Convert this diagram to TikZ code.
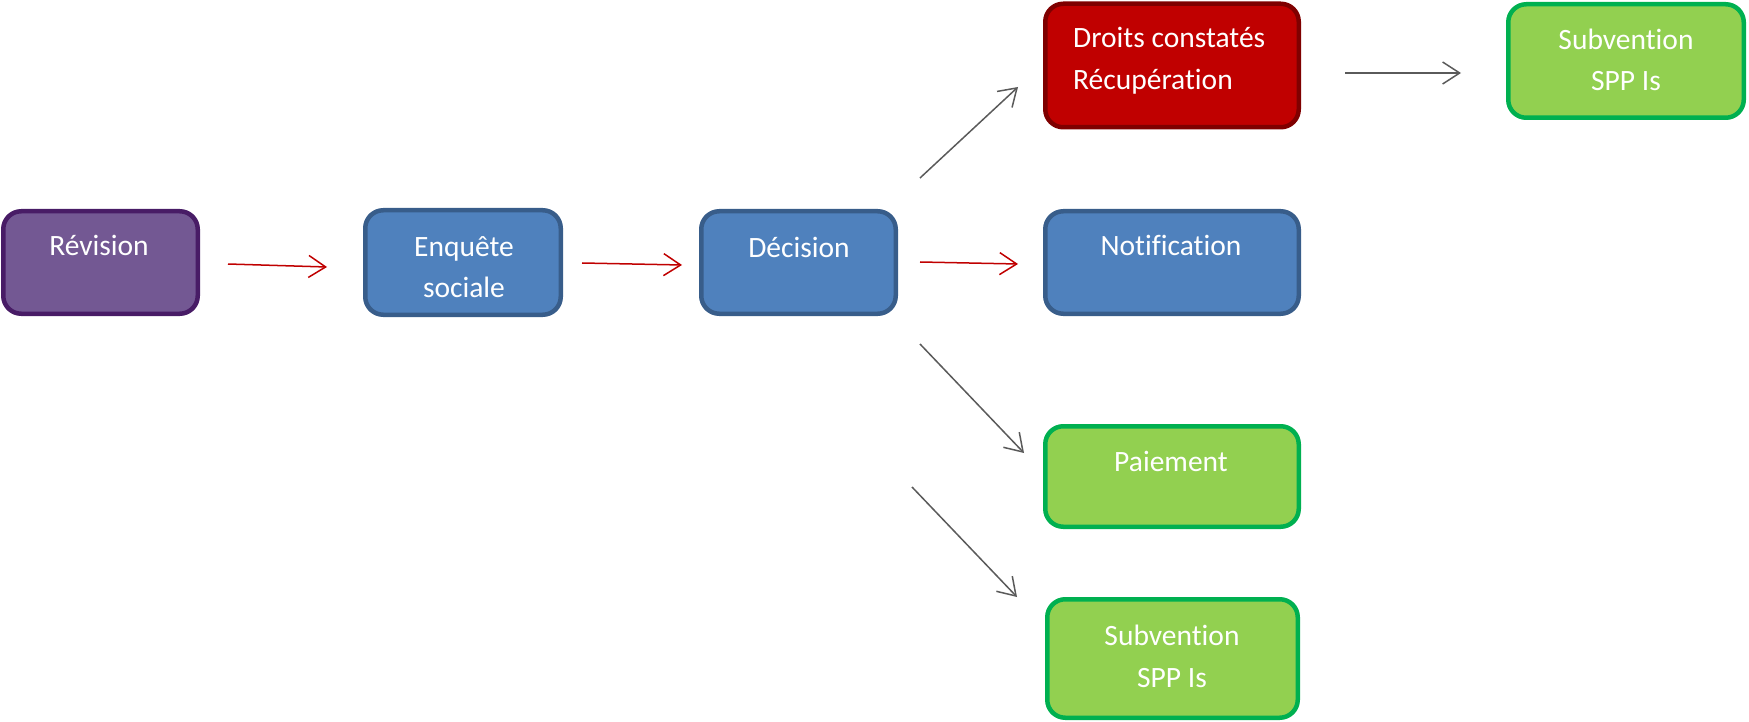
\documentclass[tikz,border=0pt]{standalone}
\usepackage{fontspec}
\setmainfont[Ligatures=NoCommon]{Carlito}
\usetikzlibrary{arrows.meta}

\definecolor{purpfill}{RGB}{115,88,147}
\definecolor{purpline}{RGB}{72,28,102}
\definecolor{bluefill}{RGB}{79,129,189}
\definecolor{blueline}{RGB}{56,93,138}
\definecolor{redfill}{RGB}{192,0,0}
\definecolor{redline}{RGB}{127,0,0}
\definecolor{greenfill}{RGB}{146,208,80}
\definecolor{greenline}{RGB}{0,176,80}
\definecolor{redarrow}{RGB}{192,0,0}
\definecolor{grayarrow}{RGB}{90,90,90}

\tikzset{
  box/.style={rectangle, rounded corners=18pt, line width=4.5pt, inner sep=0pt},
  purplebox/.style={box, draw=purpline, fill=purpfill},
  bluebox/.style={box, draw=blueline, fill=bluefill},
  redbox/.style={box, draw=redline, fill=redfill},
  greenbox/.style={box, draw=greenline, fill=greenfill},
  lbl/.style={text=white, inner sep=0pt, anchor=base,
    font=\fontsize{29.5}{41}\selectfont},
  flow/.style={line width=1.5pt, -{Straight Barb[length=17pt,width=22pt,line width=1.5pt]}},
  redflow/.style={flow, draw=redarrow},
  grayflow/.style={flow, draw=grayarrow},
}

\begin{document}
\begin{tikzpicture}[x=1pt, y=-1pt]
\useasboundingbox (0,0) rectangle (1749,722);

% boxes
\node[purplebox, minimum width=194.5pt, minimum height=102.5pt] (rev) at (100.5,262.5) {};
\node[bluebox, minimum width=195.5pt, minimum height=104.5pt] (enq) at (463,262.5) {};
\node[bluebox, minimum width=194.5pt, minimum height=102.5pt] (dec) at (798.5,262.5) {};
\node[redbox, minimum width=253.5pt, minimum height=123.5pt] (droits) at (1172,65.5) {};
\node[bluebox, minimum width=253.5pt, minimum height=102.5pt] (notif) at (1172,262.5) {};
\node[greenbox, minimum width=235.5pt, minimum height=113.5pt] (subvA) at (1626,61) {};
\node[greenbox, minimum width=253.5pt, minimum height=100.5pt] (paie) at (1172,476.5) {};
\node[greenbox, minimum width=250.5pt, minimum height=118.5pt] (subvB) at (1172.5,658.5) {};

% labels
\node[lbl] (rev-t) at (99,256) {Révision};
\node[lbl] (enq-t1) at (464,257) {Enquête};
\node[lbl] (enq-t2) at (464,298) {sociale};
\node[lbl] (dec-t) at (799,258) {Décision};
\node[lbl, anchor=base west] (droits-t1) at (1073,48) {Droits constatés};
\node[lbl, anchor=base west] (droits-t2) at (1073,90) {Récupération};
\node[lbl] (notif-t) at (1171,256) {Notification};
\node[lbl] (subvA-t1) at (1626,50) {Subvention};
\node[lbl] (subvA-t2) at (1626,91) {SPP Is};
\node[lbl] (paie-t) at (1171,471) {Paiement};
\node[lbl] (subvB-t1) at (1172,645) {Subvention};
\node[lbl] (subvB-t2) at (1172,687) {SPP Is};

% arrow end points
\coordinate (a1s) at (228,264);  \coordinate (a1e) at (327,267);
\coordinate (a2s) at (582,263);  \coordinate (a2e) at (682,265);
\coordinate (a3s) at (920,262);  \coordinate (a3e) at (1018,264);
\coordinate (a4s) at (920,178);  \coordinate (a4e) at (1018,87);
\coordinate (a5s) at (920,344);  \coordinate (a5e) at (1024,453);
\coordinate (a6s) at (912,487);  \coordinate (a6e) at (1017,597);
\coordinate (a7s) at (1345,73);  \coordinate (a7e) at (1461,73);

% connectors
\draw[redflow] (a1s) -- (a1e);
\draw[redflow] (a2s) -- (a2e);
\draw[redflow] (a3s) -- (a3e);
\draw[grayflow] (a4s) -- (a4e);
\draw[grayflow] (a5s) -- (a5e);
\draw[grayflow] (a6s) -- (a6e);
\draw[grayflow] (a7s) -- (a7e);
\end{tikzpicture}
\end{document}
